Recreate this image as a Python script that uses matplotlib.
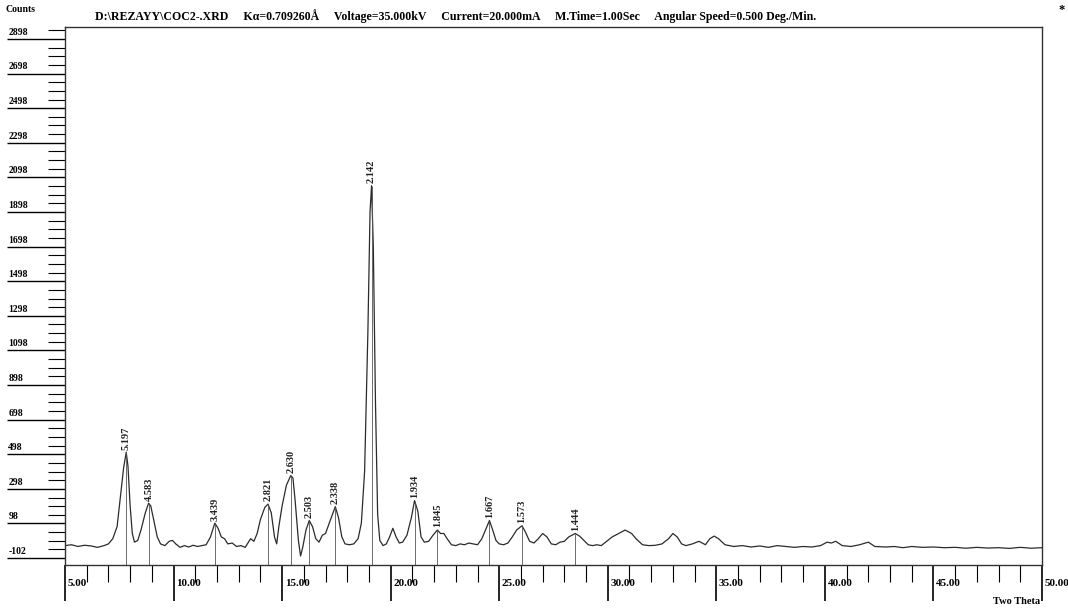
import numpy as np
import matplotlib
matplotlib.use('Agg')
import matplotlib.pyplot as plt

# trace (2theta, counts)
two_theta = [5.0, 5.3, 5.6, 5.9, 6.2, 6.5, 6.8, 7.0, 7.2, 7.4, 7.55, 7.7, 7.82, 7.9, 8.0, 8.1, 8.2, 8.35,
             8.5, 8.7, 8.85, 8.95, 9.1, 9.25, 9.4, 9.6, 9.8, 9.95, 10.1, 10.3, 10.5, 10.7, 10.9, 11.1, 11.3,
             11.5, 11.7, 11.9, 12.05, 12.2, 12.35, 12.5, 12.7, 12.9, 13.1, 13.3, 13.45, 13.55, 13.7, 13.85,
             14.0, 14.2, 14.35, 14.5, 14.65, 14.75, 14.85, 15.0, 15.2, 15.4, 15.5, 15.6, 15.75, 15.85, 15.95,
             16.1, 16.25, 16.4, 16.55, 16.7, 16.85, 17.0, 17.2, 17.45, 17.6, 17.75, 17.9, 18.1, 18.3, 18.5,
             18.65, 18.8, 18.95, 19.05, 19.12, 19.2, 19.3, 19.4, 19.5, 19.65, 19.8, 19.95, 20.1, 20.25, 20.4,
             20.55, 20.75, 20.95, 21.1, 21.25, 21.4, 21.55, 21.75, 21.95, 22.15, 22.3, 22.45, 22.6, 22.8, 23.0,
             23.2, 23.4, 23.6, 23.8, 24.0, 24.2, 24.4, 24.55, 24.7, 24.85, 25.0, 25.2, 25.4, 25.6, 25.8, 26.05,
             26.2, 26.4, 26.6, 26.8, 27.0, 27.2, 27.4, 27.6, 27.8, 28.0, 28.2, 28.5, 28.7, 28.9, 29.1, 29.3,
             29.5, 29.7, 29.9, 30.2, 30.5, 30.8, 31.1, 31.3, 31.6, 31.9, 32.2, 32.5, 32.8, 33.0, 33.2, 33.4,
             33.6, 33.9, 34.2, 34.5, 34.7, 34.9, 35.1, 35.4, 35.8, 36.2, 36.6, 37.0, 37.4, 37.8, 38.2, 38.6,
             39.0, 39.4, 39.8, 40.1, 40.3, 40.5, 40.8, 41.2, 41.6, 42.0, 42.3, 42.8, 43.2, 43.6, 44.0, 44.5,
             45.0, 45.5, 46.0, 46.5, 47.0, 47.5, 48.0, 48.5, 49.0, 49.5, 50.0]
counts = [-30, -25, -35, -28, -32, -40, -30, -20, 10, 80, 250, 420, 510, 430, 200, 40, -10, 0,
          60, 160, 215, 200, 110, 20, -20, -30, -5, 0, -20, -40, -30, -38, -28, -35, -30,
          -25, 20, 100, 70, 20, 10, -20, -15, -35, -30, -40, -10, 10, -5, 40,
          120, 190, 210, 160, 20, -20, 80, 200, 320, 375, 360, 230, 0, -90, -40,
          60, 115, 80, 10, -10, 30, 40, 110, 195, 130, 20, -20, -25, -20, 10,
          100, 400, 1200, 1900, 2050, 1700, 800, 150, 0, -30, -20, 20, 70, 20, -15,
          -10, 30, 130, 230, 170, 20, -10, -5, 30, 60, 40, 40, 10, -25, -30,
          -20, -25, -15, -20, -25, 10, 70, 115, 60, 0, -20, -25, -15, 20, 60, 85,
          50, -5, -15, 10, 40, 20, -20, -25, -10, -5, 20, 40, 25, 0, -25, -30,
          -25, -30, -10, 20, 40, 60, 40, 10, -25, -30, -28, -20, 10, 40, 20, -20,
          -30, -20, -5, -25, 10, 25, 10, -25, -35, -30, -38, -32, -40, -30, -35, -40,
          -35, -38, -30, -10, -15, -5, -30, -35, -25, -10, -35, -38, -35, -42, -35, -40,
          -38, -42, -40, -45, -40, -44, -42, -46, -40, -45, -42]

# marked peaks
peak_pos = [7.82, 8.89, 11.9, 14.35, 15.42, 16.25, 17.45, 19.12, 21.1, 22.15, 24.55, 26.05, 28.5]
peak_counts = [510, 215, 100, 210, 375, 115, 195, 2050, 230, 60, 115, 85, 40]
peak_labels = ['5.197', '4.583', '3.439', '2.821', '2.630', '2.503', '2.338', '2.142',
               '1.934', '1.845', '1.667', '1.573', '1.444']

y_ticks = [-102, 98, 298, 498, 698, 898, 1098, 1298, 1498, 1698, 1898, 2098, 2298, 2498, 2698, 2898]
x_ticks = [5, 10, 15, 20, 25, 30, 35, 40, 45, 50]

title = ('D:\\REZAYY\\COC2-.XRD     K\u03b1=0.709260\u00c5     Voltage=35.000kV     '
         'Current=20.000mA     M.Time=1.00Sec     Angular Speed=0.500 Deg./Min.')

plt.rcParams['font.family'] = ['Liberation Serif', 'DejaVu Serif']
fig = plt.figure(figsize=(10.68, 6.08), dpi=100)
ax = fig.add_axes([65 / 1068, 1 - 565 / 608, 977 / 1068, 538 / 608])

ax.plot(two_theta, counts, color='#2b2b2b', lw=0.9)
ax.vlines(peak_pos, -142, peak_counts, color='#555555', lw=0.6)
for p, c, lab in zip(peak_pos, peak_counts, peak_labels):
    ax.text(p, c + 15, lab, rotation=90, ha='center', va='bottom',
            fontsize=7.5, fontweight='bold', color='#222222')

ax.set_xlim(5, 50)
ax.set_ylim(-142, 2967)

for s in ['top', 'right', 'left', 'bottom']:
    ax.spines[s].set_linewidth(1.0)
    ax.spines[s].set_color('#333333')

# x ticks: major downward with label to the right
ax.set_xticks(x_ticks)
ax.set_xticks(np.arange(5, 51, 1), minor=True)
ax.tick_params(axis='x', which='major', direction='out', length=26, width=1.2, labelbottom=False)
ax.tick_params(axis='x', which='minor', direction='out', length=12, width=0.8)
xt = ax.get_xaxis_transform()
for v in x_ticks:
    ax.text(v + 0.12, -0.035, '%.2f' % v, transform=xt, ha='left', va='center',
            fontsize=8, fontweight='bold')

# y ticks: long major ticks with label sitting on them
ax.set_yticks(y_ticks)
ax.set_yticks(np.arange(-102, 2967, 50), minor=True)
ax.tick_params(axis='y', which='major', direction='out', length=42, width=1.0, labelleft=False)
ax.tick_params(axis='y', which='minor', direction='out', length=12, width=0.8)
yt = ax.get_yaxis_transform()
for v in y_ticks:
    ax.text(-0.058, v + 12, str(v), transform=yt, ha='left', va='bottom',
            fontsize=7, fontweight='bold')

fig.text(5 / 1068, 1 - 9 / 608, 'Counts', fontsize=7, fontweight='bold', va='center')
fig.text(95 / 1068, 1 - 16 / 608, title, fontsize=8.6, fontweight='bold', va='center')
fig.text(1058 / 1068, 1 - 10 / 608, '*', fontsize=9, fontweight='bold', va='center')
fig.text(1040 / 1068, 1 - 601 / 608, 'Two Theta', fontsize=7.5, fontweight='bold',
         va='center', ha='right')

fig.savefig('out.png', dpi=100)
